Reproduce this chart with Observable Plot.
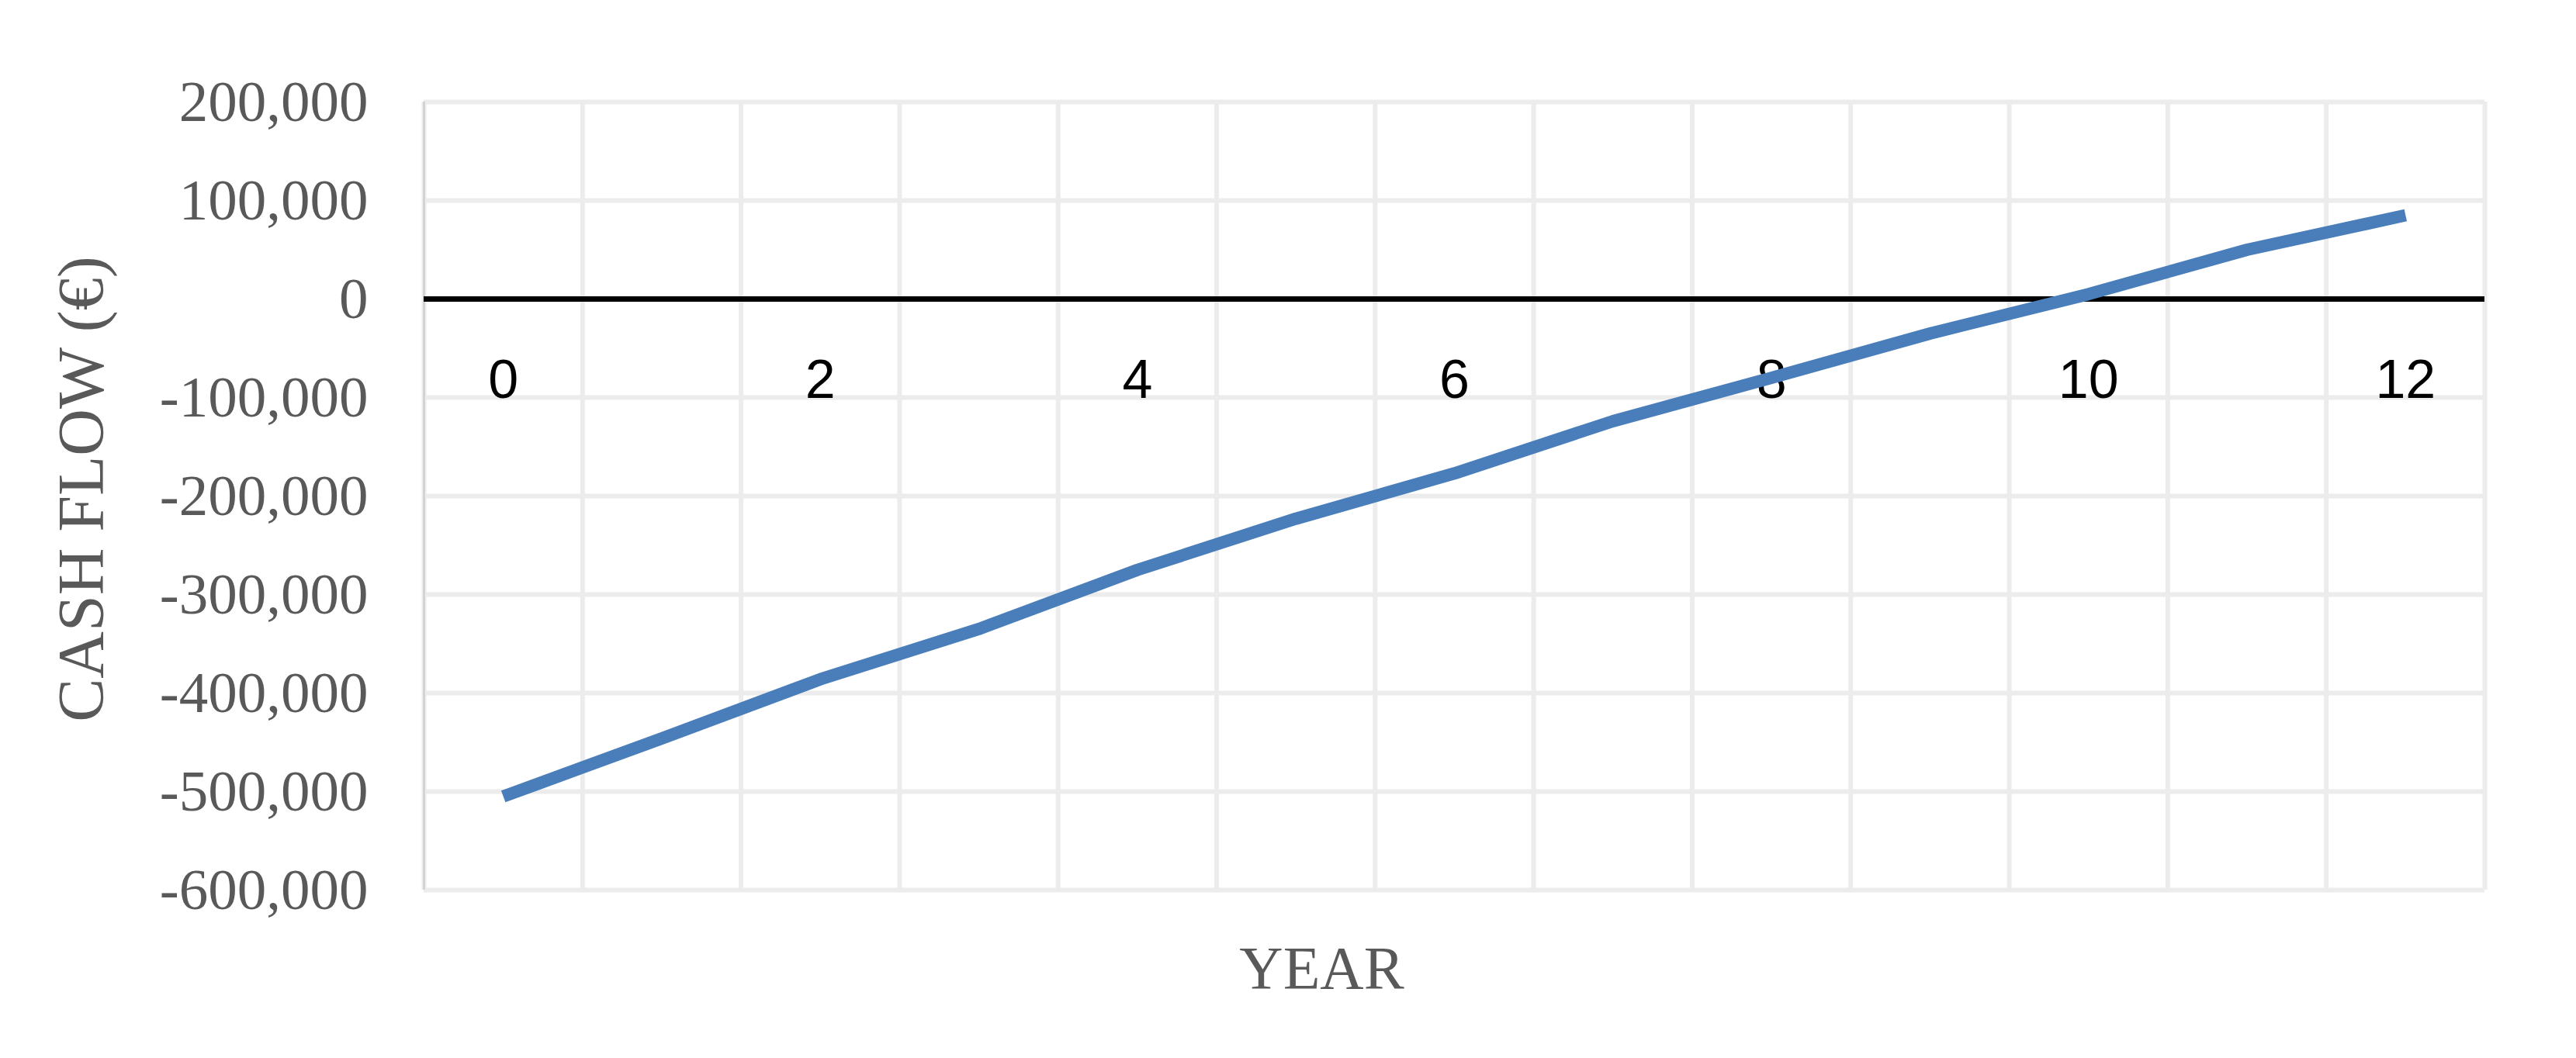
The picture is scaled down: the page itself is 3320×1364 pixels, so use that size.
<!DOCTYPE html>
<html>
<head>
<meta charset="utf-8">
<script src="https://cdn.jsdelivr.net/npm/d3@7"></script>
<script src="https://cdn.jsdelivr.net/npm/@observablehq/plot@0.6"></script>
<style>
  html, body { margin: 0; padding: 0; background: #ffffff; }
  #chart svg { display: block; }
</style>
</head>
<body>
<div id="chart"></div>
<script>
const years = [0, 1, 2, 3, 4, 5, 6, 7, 8, 9, 10, 11, 12];
const cashFlow = [-505000, -446000, -386000, -335000, -275000, -223000, -177000, -124000, -80000, -35000, 5000, 50000, 85000];
const yTicks = [200000, 100000, 0, -100000, -200000, -300000, -400000, -500000, -600000];
const xTickLabels = [0, 2, 4, 6, 8, 10, 12];
const xTitle = "YEAR";
const yTitle = "CASH FLOW (€)";

const data = years.map((yr, i) => ({year: yr, value: cashFlow[i]}));
const bandEdges = years.map(d => d - 0.5).concat([years[years.length - 1] + 0.5]);
const fmt = v => (v < 0 ? "-" : "") + d3.format(",")(Math.abs(v));

const chart = Plot.plot({
  width: 3320,
  height: 1364,
  marginLeft: 546,
  marginRight: 118,
  marginTop: 131,
  marginBottom: 217,
  style: {fontFamily: "'Liberation Serif', 'Times New Roman', serif", fontSize: "75px", background: "#ffffff"},
  x: {domain: [bandEdges[0], bandEdges[bandEdges.length - 1]], axis: null},
  y: {domain: [-600000, 200000], axis: null},
  marks: [
    Plot.ruleY(yTicks, {stroke: "#ececec", strokeWidth: 6}),
    Plot.ruleX(bandEdges, {stroke: "#ececec", strokeWidth: 6}),
    Plot.ruleX([bandEdges[0]], {stroke: "#c9c9c9", strokeWidth: 2}),
    Plot.axisY(yTicks, {tickSize: 0, tickPadding: 72, tickFormat: fmt, fill: "#595959", fontSize: 75, label: null}),
    Plot.ruleY([0], {stroke: "#000000", strokeWidth: 7}),
    Plot.text(xTickLabels, {x: d => d, y: () => 0, text: d => String(d), dy: 127, lineAnchor: "bottom", fontFamily: "'Liberation Sans', Arial, sans-serif", fontSize: 70, fill: "#000000"}),
    Plot.line(data, {x: "year", y: "value", stroke: "#4a7ebb", strokeWidth: 16, strokeLinecap: "butt", strokeLinejoin: "round"}),
    Plot.text([yTitle], {frameAnchor: "left", textAnchor: "middle", rotate: -90, dx: -440, dy: -9, fontSize: 84, fill: "#595959", lineAnchor: "middle"}),
    Plot.text([xTitle], {frameAnchor: "bottom", textAnchor: "middle", dx: -171, dy: 126, fontSize: 78, fill: "#595959", lineAnchor: "bottom"})
  ]
});
document.getElementById("chart").appendChild(chart);
</script>
</body>
</html>
